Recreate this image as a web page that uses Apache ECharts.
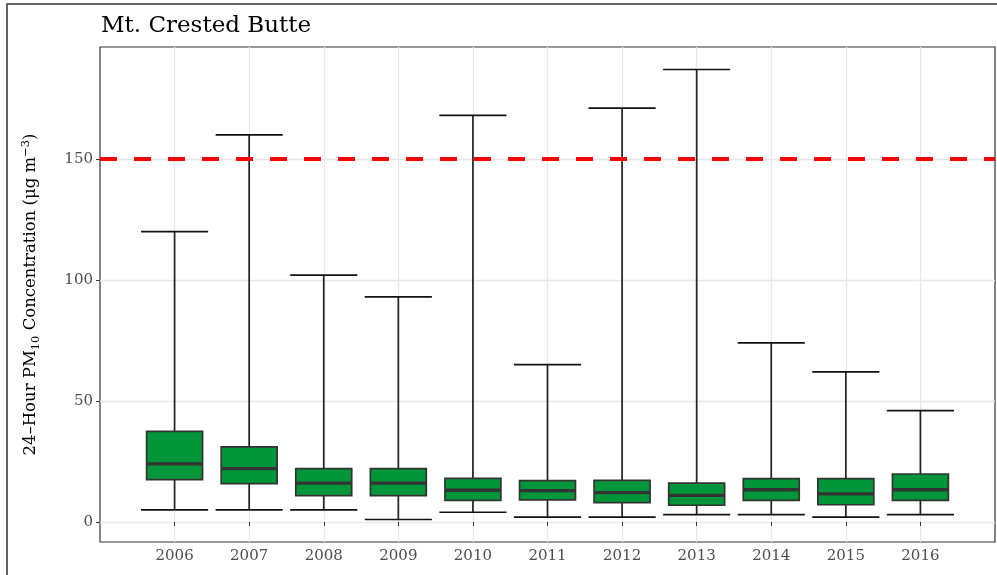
<!DOCTYPE html>
<html>
<head>
<meta charset="utf-8">
<script src="https://cdn.jsdelivr.net/npm/echarts@6/dist/echarts.min.js"></script>
<style>
  html, body { margin: 0; padding: 0; background: #fff; }
  #chart { width: 997px; height: 575px; }
</style>
</head>
<body>
<div id="chart"></div>
<script>
  // values
  var years = [2006, 2007, 2008, 2009, 2010, 2011, 2012, 2013, 2014, 2015, 2016];
  var mins = [5, 5, 5, 1, 4, 2, 2, 3, 3, 2, 3];
  var q1 = [17.5, 15.8, 10.9, 10.9, 8.9, 9.1, 8.0, 6.9, 8.9, 7.1, 8.9];
  var medians = [24, 22, 16, 16, 13.1, 12.9, 12.1, 11, 13.3, 11.6, 13.3];
  var q3 = [37.4, 31, 22, 22, 18, 17.1, 17.2, 16, 17.9, 17.9, 19.8];
  var maxs = [120, 160, 102, 93, 168, 65, 171, 187, 74, 62, 46];
  var yTicks = [0, 50, 100, 150];
  var standard = 150;

  var serif = 'DejaVu Serif';

  var boxData = [];
  for (var i = 0; i < years.length; i++) {
    boxData.push([years[i], mins[i], q1[i], medians[i], q3[i], maxs[i]]);
  }

  var chart = echarts.init(document.getElementById('chart'));

  chart.setOption({
    animation: false,
    backgroundColor: '#fff',
    title: {
      text: 'Mt. Crested Butte',
      left: 96,
      top: 10,
      textStyle: {fontFamily: serif, fontSize: 23, fontWeight: 'normal', color: '#000'}
    },
    graphic: [{
      type: 'rect',
      shape: {x: 7, y: 4, width: 1000, height: 600},
      style: {fill: 'none', stroke: '#333', lineWidth: 1.5},
      silent: true
    }],
    grid: {
      left: 100,
      right: 2,
      top: 47,
      bottom: 33,
      show: true,
      borderColor: '#333',
      borderWidth: 1.2,
      backgroundColor: '#fff'
    },
    xAxis: {
      type: 'value',
      min: 2005,
      max: 2017,
      interval: 0.5,
      axisLine: {show: false},
      axisTick: {show: true, customValues: years, length: 4, lineStyle: {color: '#333'}},
      axisLabel: {
        customValues: years,
        margin: 7,
        fontFamily: serif,
        fontSize: 15,
        color: '#4d4d4d',
        formatter: function (v) { return String(v); }
      },
      splitLine: {show: true, lineStyle: {color: '#e8e8e8', width: 1.3}}
    },
    yAxis: {
      type: 'value',
      min: -8.3,
      max: 196.3,
      interval: 25,
      name: '{n|24–Hour PM}{sub|10}{n| Concentration (μg m}{sup|−3}{n|)}',
      nameLocation: 'middle',
      nameGap: 58,
      nameTextStyle: {
        rich: {
          n: {fontFamily: serif, fontSize: 16.5, color: '#000', lineHeight: 22},
          sub: {fontFamily: serif, fontSize: 11.5, color: '#000', lineHeight: 10, verticalAlign: 'bottom'},
          sup: {fontFamily: serif, fontSize: 11.5, color: '#000', lineHeight: 10, verticalAlign: 'top'}
        }
      },
      axisLine: {show: false},
      axisTick: {show: true, customValues: yTicks, length: 4, lineStyle: {color: '#333'}},
      axisLabel: {
        customValues: yTicks,
        margin: 7,
        fontFamily: serif,
        fontSize: 15,
        color: '#4d4d4d'
      },
      splitLine: {show: true, lineStyle: {color: '#e8e8e8', width: 1.3}}
    },
    series: [{
      type: 'custom',
      data: boxData,
      encode: {x: 0, y: [1, 2, 3, 4, 5]},
      renderItem: function (params, api) {
        var x = api.value(0);
        var lo = api.coord([x, api.value(1)]);
        var b1 = api.coord([x - 0.375, api.value(2)]);
        var b2 = api.coord([x + 0.375, api.value(4)]);
        var md = api.coord([x, api.value(3)]);
        var hi = api.coord([x, api.value(5)]);
        var c1 = api.coord([x - 0.45, 0])[0];
        var c2 = api.coord([x + 0.45, 0])[0];
        return {
          type: 'group',
          children: [
            {type: 'line', shape: {x1: lo[0], y1: lo[1], x2: hi[0], y2: hi[1]},
              style: {stroke: '#222', lineWidth: 1.7}},
            {type: 'line', shape: {x1: c1, y1: lo[1], x2: c2, y2: lo[1]},
              style: {stroke: '#111', lineWidth: 1.7}},
            {type: 'line', shape: {x1: c1, y1: hi[1], x2: c2, y2: hi[1]},
              style: {stroke: '#111', lineWidth: 1.7}},
            {type: 'rect', shape: {x: b1[0], y: b2[1], width: b2[0] - b1[0], height: b1[1] - b2[1]},
              style: {fill: '#009639', stroke: '#333', lineWidth: 1.7}},
            {type: 'line', shape: {x1: b1[0], y1: md[1], x2: b2[0], y2: md[1]},
              style: {stroke: '#333', lineWidth: 3.3}}
          ]
        };
      },
      markLine: {
        silent: true,
        symbol: ['none', 'none'],
        label: {show: false},
        lineStyle: {color: '#ff0000', width: 4, type: [17, 17], dashOffset: 0, opacity: 1},
        emphasis: {disabled: true},
        data: [{yAxis: standard}]
      },
      z: 3
    }]
  });
</script>
</body>
</html>
